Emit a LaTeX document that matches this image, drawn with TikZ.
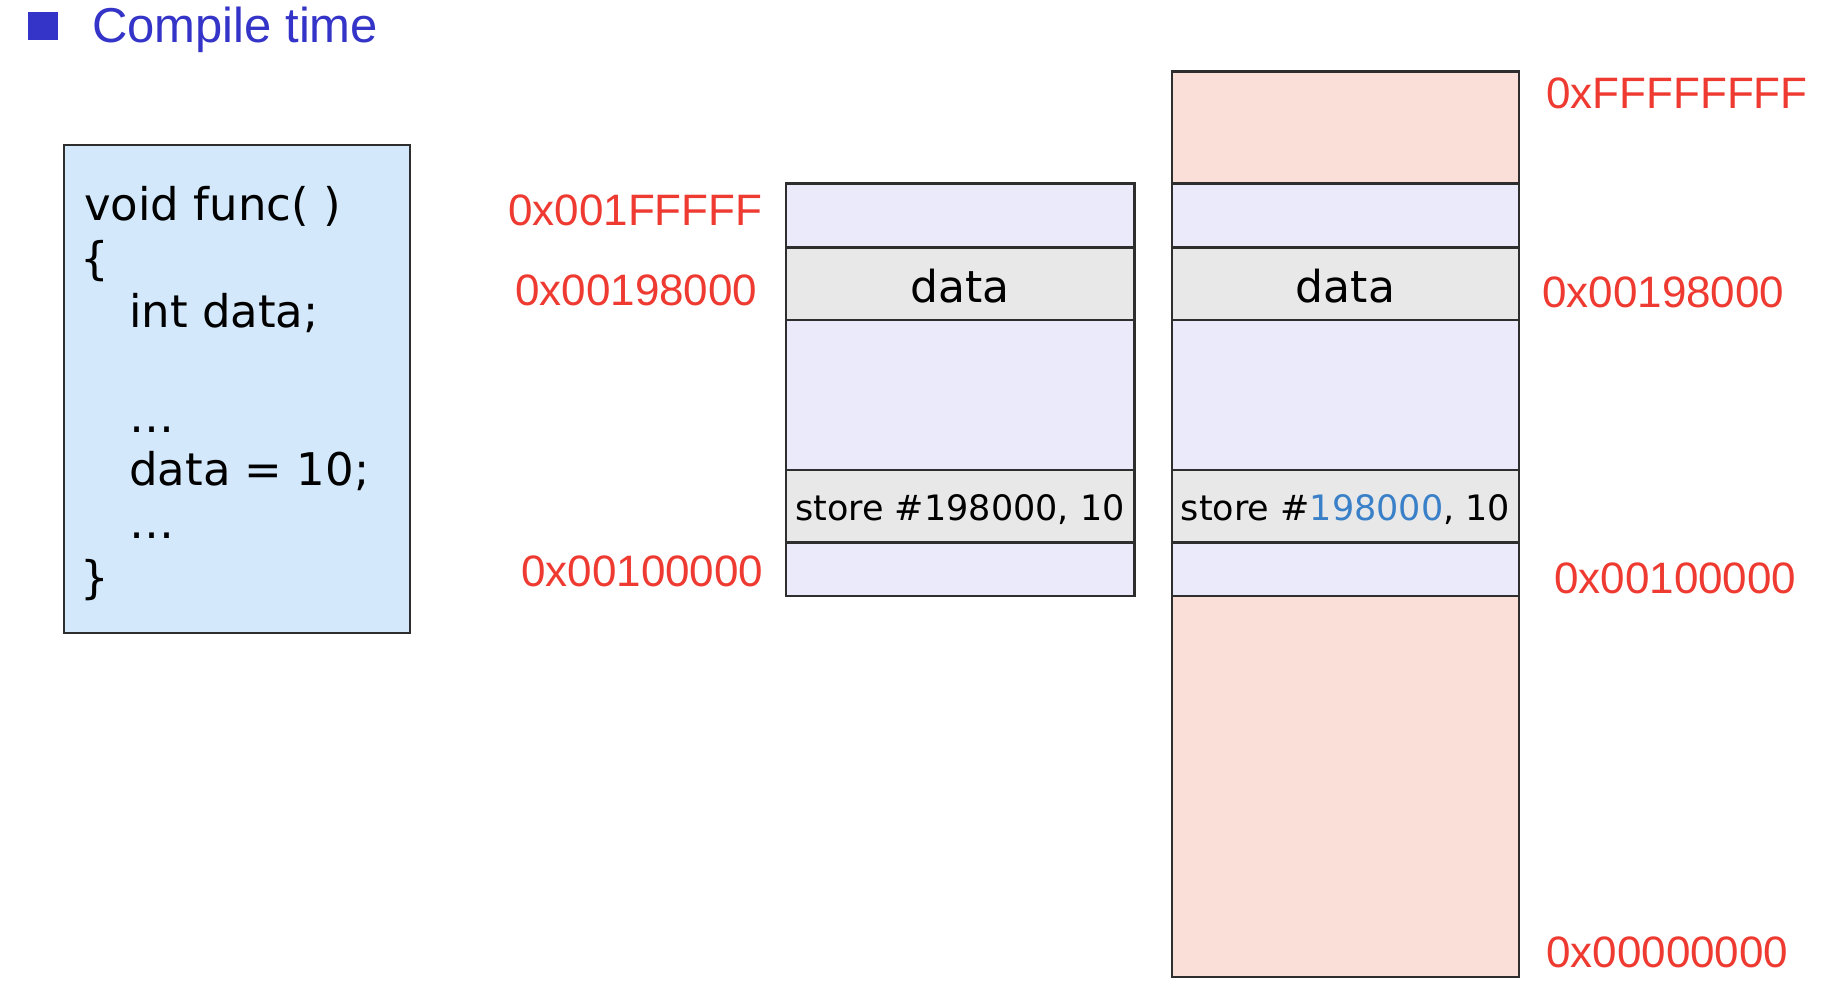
\documentclass[tikz,border=0pt]{standalone}
\usepackage{fontspec}
\newfontfamily\arialf{Liberation Sans}
\newfontfamily\verdf{DejaVu Sans}
\definecolor{titleblue}{HTML}{3434C8}
\definecolor{codefill}{HTML}{D3E9FB}
\definecolor{lav}{HTML}{EAEAFA}
\definecolor{cellgray}{HTML}{E8E8E8}
\definecolor{pinkfill}{HTML}{FADFD8}
\definecolor{addrred}{HTML}{EE3A30}
\definecolor{numblue}{HTML}{3A80C8}
\definecolor{edge}{HTML}{2E2E2E}
\begin{document}
\begin{tikzpicture}[x=1pt,y=-1pt,
  cellline/.style={draw=edge,line width=2.6pt},
  addr/.style={text=addrred,font=\arialf\fontsize{44}{50}\selectfont,anchor=base west,inner sep=0pt},
  codeline/.style={font=\verdf\fontsize{45}{53}\selectfont,anchor=base west,inner sep=0pt},
  celltext/.style={font=\verdf\fontsize{44}{53}\selectfont,anchor=base,inner sep=0pt},
  storetext/.style={font=\verdf\fontsize{35}{42}\selectfont,anchor=base,inner sep=0pt}]
\useasboundingbox (0,0) rectangle (1832,998);
\fill[white] (0,0) rectangle (1832,998);
% title
\node[fill=titleblue,minimum width=30pt,minimum height=28pt,inner sep=0pt,anchor=north west] (bullet) at (28,12) {};
\node[text=titleblue,font=\arialf\fontsize{49}{58}\selectfont,anchor=base west,inner sep=0pt] (title) at (92,43) {Compile time};
% code box
\draw[draw=edge,line width=2.4pt,fill=codefill] (64,145) rectangle (410,633);
\node[codeline] (c1) at (84,220) {void func( )};
\node[codeline] (c2) at (80,274) {\{};
\node[codeline] (c3) at (129,327) {int data;};
\node[codeline] (c4) at (129,432) {…};
\node[codeline] (c5) at (129,485) {data = 10;};
\node[codeline] (c6) at (129,538) {…};
\node[codeline] (c7) at (80,593) {\}};
% middle memory
\draw[cellline,fill=lav] (786,183.3) rectangle (1134.5,247.5);
\draw[cellline,fill=cellgray] (786,247.5) rectangle (1134.5,320);
\draw[cellline,fill=lav] (786,320) rectangle (1134.5,470);
\draw[cellline,fill=cellgray] (786,470) rectangle (1134.5,542.2);
\draw[cellline,fill=lav] (786,542.2) rectangle (1134.5,596);
\node[celltext] (mdata) at (960,302) {data};
\node[storetext] (mstore) at (960,520) {store \#198000, 10};
% right memory
\draw[cellline,fill=pinkfill] (1172,71.3) rectangle (1519,183.3);
\draw[cellline,fill=lav] (1172,183.3) rectangle (1519,247.5);
\draw[cellline,fill=cellgray] (1172,247.5) rectangle (1519,320);
\draw[cellline,fill=lav] (1172,320) rectangle (1519,470);
\draw[cellline,fill=cellgray] (1172,470) rectangle (1519,542.2);
\draw[cellline,fill=lav] (1172,542.2) rectangle (1519,596);
\draw[cellline,fill=pinkfill] (1172,596) rectangle (1519,976.8);
\node[celltext] (rdata) at (1345.5,302) {data};
\node[storetext] (rstore) at (1345.5,520) {store \#\textcolor{numblue}{198000}, 10};
% addresses
\node[addr] (a1) at (508,225) {0x001FFFFF};
\node[addr] (a2) at (515,305) {0x00198000};
\node[addr] (a3) at (521,586) {0x00100000};
\node[addr] (b1) at (1546,109) {0xFFFFFFFF};
\node[addr] (b2) at (1542,307) {0x00198000};
\node[addr] (b3) at (1554,593) {0x00100000};
\node[addr] (b4) at (1546,967) {0x00000000};
\end{tikzpicture}
\end{document}
